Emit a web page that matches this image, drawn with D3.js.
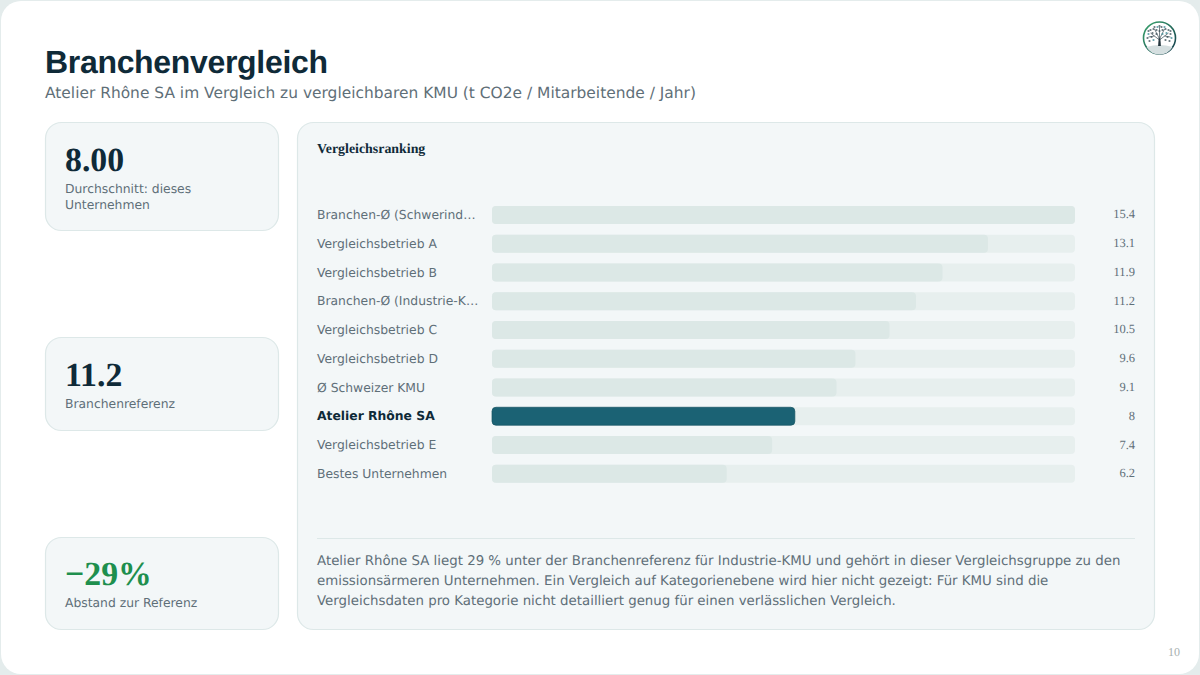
<!DOCTYPE html>
<html lang="de"><head><meta charset="utf-8">
<script src="https://cdn.jsdelivr.net/npm/d3@7/dist/d3.min.js"></script>
<style>html,body{margin:0;padding:0;background:#e4ecec;overflow:hidden}svg{display:block;text-rendering:geometricPrecision}</style>
</head><body><svg id="c" width="1200" height="675"></svg>
<script>
const categories=["Branchen-Ø (Schwerind…","Vergleichsbetrieb A","Vergleichsbetrieb B","Branchen-Ø (Industrie-K…","Vergleichsbetrieb C","Vergleichsbetrieb D","Ø Schweizer KMU","Atelier Rhône SA","Vergleichsbetrieb E","Bestes Unternehmen"];
const values=[15.4,13.1,11.9,11.2,10.5,9.6,9.1,8,7.4,6.2];
const highlight="Atelier Rhône SA";
const kpiValues=["8.00","11.2","−29%"];
const kpiLabels=[["Durchschnitt: dieses","Unternehmen"],["Branchenreferenz"],["Abstand zur Referenz"]];
const noteLines=["Atelier Rhône SA liegt 29 % unter der Branchenreferenz für Industrie-KMU und gehört in dieser Vergleichsgruppe zu den","emissionsärmeren Unternehmen. Ein Vergleich auf Kategorienebene wird hier nicht gezeigt: Für KMU sind die","Vergleichsdaten pro Kategorie nicht detailliert genug für einen verlässlichen Vergleich."];

const sans="'DejaVu Sans',sans-serif",serif="'Liberation Serif',serif",head="'Liberation Sans',sans-serif";
const grey="#5f6f78",ink="#0f2a38",line="#dde8e8",panel="#f3f7f8";
const svg=d3.select("#c");
const T=(x,y,t,s,f,c,w,a)=>svg.append("text").attr("x",x).attr("y",y).attr("font-size",s).attr("font-family",f).attr("fill",c).attr("font-weight",w||400).attr("text-anchor",a||"start").text(t);
const R=(x,y,w,h,r,f,st)=>svg.append("rect").attr("x",x).attr("y",y).attr("width",w).attr("height",h).attr("rx",r).attr("fill",f).attr("stroke",st||"none").attr("stroke-width",1.2);

R(1,1,1198,673,20,"#ffffff");
T(45,73,"Branchenvergleich",32,head,ink,700).attr("letter-spacing",-0.32);
T(45,98,"Atelier Rhône SA im Vergleich zu vergleichbaren KMU (t CO2e / Mitarbeitende / Jahr)",15.45,sans,grey);

// KPI cards
const cards=[{y:122.5,h:108,vy:171},{y:337.5,h:93,vy:386},{y:537.5,h:92,vy:585}];
const kpiColors=[ink,ink,"#1e8f4e"];
cards.forEach((c,i)=>{
  R(45.5,c.y,233,c.h,16,panel,line);
  T(65,c.vy,kpiValues[i],33.8,serif,kpiColors[i],700);
  kpiLabels[i].forEach((l,j)=>T(65,c.vy+22.2+j*16,l,12.35,sans,grey));
});

// Main panel
R(297.5,122.5,857,507,16,panel,line);
T(317,153,"Vergleichsranking",13.9,serif,ink,700);

const x=d3.scaleLinear().domain([0,d3.max(values)]).range([492,1075]);
const y=d3.scaleBand().domain(categories).range([206,482.75]).paddingInner(0.374).paddingOuter(0);
const rows=svg.append("g").selectAll("g").data(categories).join("g");
rows.append("rect").attr("x",x(0)).attr("y",d=>y(d)).attr("width",x.range()[1]-x(0)).attr("height",y.bandwidth()).attr("rx",4).attr("fill","#e7efee");
rows.append("rect").attr("x",x(0)).attr("y",d=>y(d)).attr("width",(d,i)=>x(values[i])-x(0)).attr("height",y.bandwidth()).attr("rx",4)
  .attr("fill",d=>d===highlight?"#1b6274":"#dce8e6").attr("stroke",d=>d===highlight?"#155362":"none").attr("stroke-width",.7);
rows.append("text").attr("x",317).attr("y",d=>y(d)+y.bandwidth()/2+4.2).attr("font-family",sans).attr("font-size",12.35)
  .attr("font-weight",d=>d===highlight?700:400).attr("fill",d=>d===highlight?ink:grey).text(d=>d);
rows.append("text").attr("x",1135).attr("y",d=>y(d)+y.bandwidth()/2+3.5).attr("text-anchor","end").attr("font-family",serif).attr("font-size",12.5).attr("fill",grey).text((d,i)=>values[i]);

svg.append("line").attr("x1",317).attr("x2",1135).attr("y1",538.5).attr("y2",538.5).attr("stroke",line).attr("stroke-width",1.2);
noteLines.forEach((l,i)=>T(317,565.2+i*20,l,13.35,sans,grey));

T(1180,656,"10",12,serif,"#a8b0b0",400,"end");

// Logo
const defs=svg.append("defs");
const g=defs.append("linearGradient").attr("id","lg").attr("x1",0).attr("y1",0).attr("x2",1).attr("y2",1);
g.append("stop").attr("offset",0).attr("stop-color","#3aa66e");
g.append("stop").attr("offset",1).attr("stop-color","#12384a");
const lg=svg.append("g").attr("transform","translate(1159.5,38)");
lg.append("circle").attr("r",16).attr("fill","#fff").attr("stroke","url(#lg)").attr("stroke-width",1.6);
lg.append("path").attr("d","M-13,9 Q0,5 13,9 A15,15 0 0 1 -13,9Z").attr("fill","#d5dfe0");
lg.append("path").attr("d","M-1.4,8 L-.8,0 L.8,0 L1.4,8Z").attr("fill","#23343c");
lg.append("path").attr("d","M0,2 L-9,-5 M0,2 L9,-5 M0,1 L-5,-9 M0,1 L5,-9 M0,1 L0,-11 M-5,-2 L-11,-1 M5,-2 L11,-1").attr("stroke","#3a4c54").attr("stroke-width",.7).attr("fill","none");
const leaves=[[-11,-4],[-9,-8],[-5,-11],[0,-12],[5,-11],[9,-8],[11,-4],[-12,0],[12,0],[-7,-5],[-3,-8],[3,-8],[7,-5],[-8,-1],[8,-1],[-3,-4],[3,-4],[0,-7],[-10,3],[10,3],[-6,2],[6,2],[-6,-9],[6,-9],[-2,-11],[2,-11],[-11,-7],[11,-7]];
leaves.forEach((p,i)=>lg.append("circle").attr("cx",p[0]).attr("cy",p[1]).attr("r",1.1).attr("fill",i%4==0?"#3f8f9a":"#40545c").attr("opacity",.8));
</script></body></html>
